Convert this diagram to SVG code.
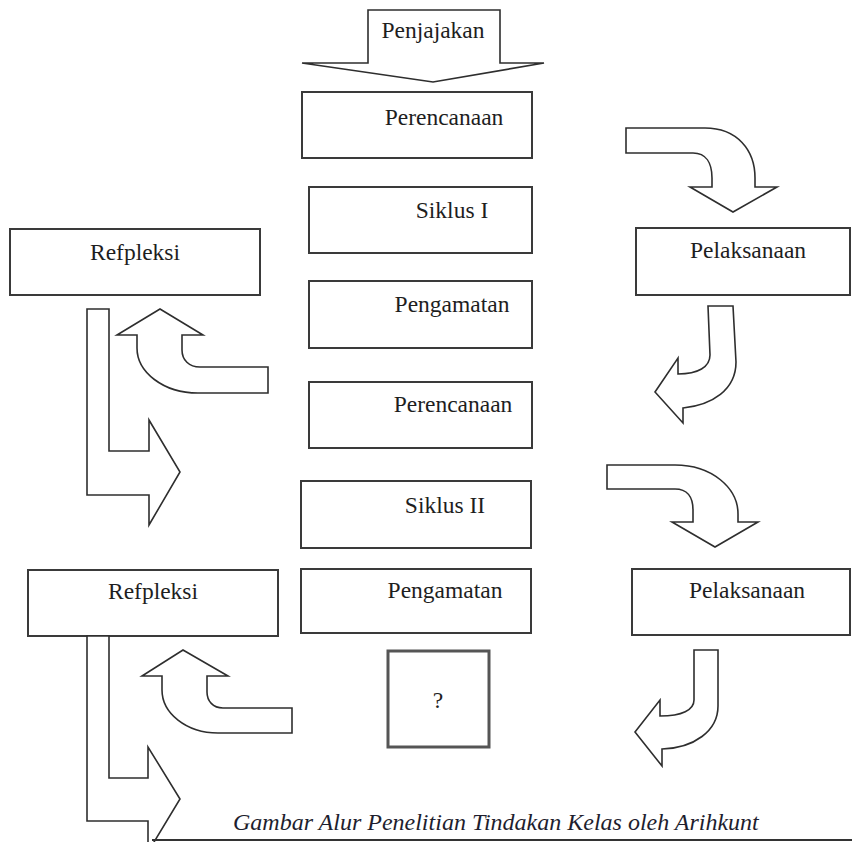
<svg xmlns="http://www.w3.org/2000/svg" width="852" height="842" viewBox="0 0 852 842">
<style>
.box{fill:#fff;stroke:#3a3a3a;stroke-width:2}
.q{fill:#fff;stroke:#555;stroke-width:3}
.arr{fill:#fff;stroke:#2e2e2e;stroke-width:1.6;stroke-linejoin:miter}
.lbl{font-family:"Liberation Serif","Times New Roman",serif;font-size:23.5px;fill:#1e1e1e;text-anchor:middle}
.cap{font-family:"Liberation Serif","Times New Roman",serif;font-size:24px;font-style:italic;fill:#1e1e2e}
</style>
<rect width="852" height="842" fill="#fff"/>
<g id="penjajakan">
<path class="arr" d="M368,10 H500 V63 H544 L433,82 L302,63 H368 Z"/>
<text class="lbl" x="433" y="38">Penjajakan</text>
</g>
<g id="perencanaan1"><rect class="box" x="302" y="92" width="230" height="66"/><text class="lbl" x="444" y="125">Perencanaan</text></g>
<g id="siklus1"><rect class="box" x="309" y="187" width="223" height="66"/><text class="lbl" x="452" y="218">Siklus I</text></g>
<g id="pengamatan1"><rect class="box" x="309" y="281" width="223" height="67"/><text class="lbl" x="452" y="312">Pengamatan</text></g>
<g id="perencanaan2"><rect class="box" x="309" y="382" width="223" height="66"/><text class="lbl" x="453" y="412">Perencanaan</text></g>
<g id="siklus2"><rect class="box" x="301" y="481" width="230" height="67"/><text class="lbl" x="445" y="513">Siklus II</text></g>
<g id="pengamatan2"><rect class="box" x="301" y="569" width="230" height="64"/><text class="lbl" x="445" y="598">Pengamatan</text></g>
<g id="tanya"><rect class="q" x="388" y="651" width="101" height="96"/><text class="lbl" x="438" y="708">?</text></g>
<g id="pelaksanaan1"><rect class="box" x="636" y="228" width="214" height="67"/><text class="lbl" x="748" y="258">Pelaksanaan</text></g>
<g id="pelaksanaan2"><rect class="box" x="632" y="569" width="218" height="66"/><text class="lbl" x="747" y="598">Pelaksanaan</text></g>
<g id="refpleksi1"><rect class="box" x="10" y="229" width="250" height="66"/><text class="lbl" x="135" y="260">Refpleksi</text></g>
<g id="refpleksi2"><rect class="box" x="28" y="570" width="250" height="66"/><text class="lbl" x="153" y="599">Refpleksi</text></g>
<g id="connectors">
<path class="arr" d="M626,128 H705 C737,128 755,150 755,178 V187 H777 L733,212 L690,187 H712 V178 C712,163 706,153 693,153 H626 Z"/>
<path class="arr" d="M708,306 H733 L736,362 C736,390 712,405 683,408 V423 L655,392 L678,358 V374 C698,374 710,367 710,355 Z"/>
<path class="arr" d="M607,465 H675 C712,465 738,488 738,514 V522 H758 L715,547 L672,522 H693 V510 C693,497 687,489 675,489 H607 Z"/>
<path class="arr" d="M694,650 H718 V706 C718,731 694,748 662,749 V766 L635,732 L660,700 V716 C682,716 694,710 694,700 Z"/>
<path class="arr" d="M160,309 L203,335 H182 V350 C182,360 189,367 200,367 H268 V393 H198 C163,393 137,372 137,348 V335 H117 Z"/>
<path class="arr" d="M183,650 L228,676 H207 V692 C207,701 213,708 223,708 H292 V733 H218 C186,733 162,713 162,690 V676 H142 Z"/>
<path class="arr" d="M87,309 H109 V451 H149 V420 L180,472 L149,525 V495 H87 Z"/>
<path class="arr" d="M87,636 H109 V778 H148 V747 L180,799 L148,852 V821 H87 Z"/>
</g>
<text class="cap" x="233" y="830">Gambar Alur Penelitian Tindakan Kelas oleh Arihkunt</text>
<line x1="152" y1="840" x2="852" y2="840" stroke="#333" stroke-width="2"/>
</svg>
